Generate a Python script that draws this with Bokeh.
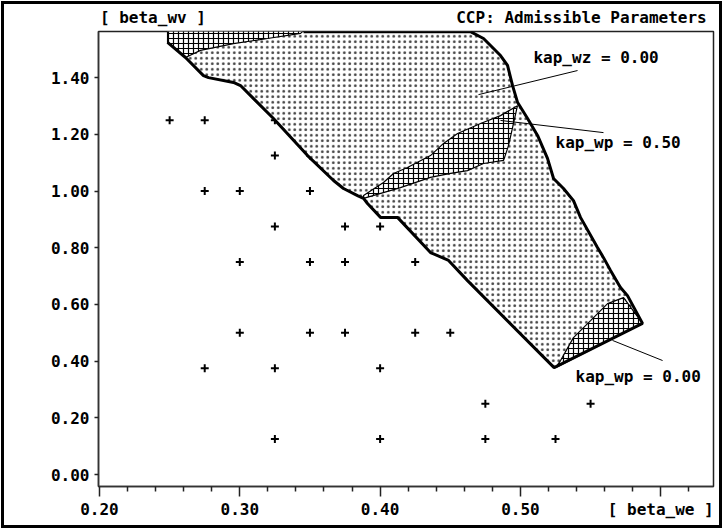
from bokeh.plotting import figure
from bokeh.models import Range1d, FixedTicker, Label, LinearAxis
from bokeh.embed import file_html
from bokeh.resources import INLINE

# grid of tested parameter points
pts_we = [0.25, 0.275, 0.325, 0.325, 0.35, 0.275, 0.30, 0.35, 0.325, 0.375, 0.40,
          0.30, 0.35, 0.375, 0.425, 0.30, 0.35, 0.375, 0.425, 0.45,
          0.275, 0.325, 0.40, 0.475, 0.55, 0.325, 0.40, 0.475, 0.525]
pts_wv = [1.25, 1.25, 1.25, 1.125, 1.125, 1.0, 1.0, 1.0, 0.875, 0.875, 0.875,
          0.75, 0.75, 0.75, 0.75, 0.5, 0.5, 0.5, 0.5, 0.5,
          0.375, 0.375, 0.375, 0.25, 0.25, 0.125, 0.125, 0.125, 0.125]

# admissible region (outer boundary)
outer_we = [0.2485, 0.3454, 0.4644, 0.4737, 0.4858, 0.4908, 0.4944, 0.4980, 0.5051,
            0.5122, 0.5193, 0.5236, 0.5307, 0.5378, 0.5428, 0.5549, 0.5592, 0.5642,
            0.5713, 0.5763, 0.5870, 0.5240, 0.4623, 0.4488, 0.4359, 0.4124, 0.4003,
            0.3910, 0.3882, 0.3839, 0.3739, 0.3668, 0.3483, 0.3240, 0.3098, 0.3005,
            0.2955, 0.2777, 0.2741, 0.2613, 0.2485]
outer_wv = [1.562, 1.562, 1.562, 1.538, 1.478, 1.443, 1.372, 1.312, 1.256,
            1.196, 1.115, 1.044, 1.009, 0.966, 0.907, 0.801, 0.765, 0.720,
            0.660, 0.631, 0.533, 0.377, 0.684, 0.755, 0.783, 0.907, 0.907,
            0.956, 0.974, 0.984, 1.009, 1.037, 1.125, 1.256, 1.326, 1.372,
            1.383, 1.400, 1.407, 1.471, 1.524]

# kap_wz hatched region (top-left)
hz_we = [0.2485, 0.3454, 0.3433, 0.3198, 0.2955, 0.2720, 0.2613, 0.2485]
hz_wv = [1.565, 1.565, 1.556, 1.538, 1.520, 1.496, 1.471, 1.524]

# kap_wp = 0.50 hatched band
hm_we = [0.3882, 0.4024, 0.4096, 0.4195, 0.4359, 0.4452, 0.4552, 0.4716, 0.4858, 0.4979,
         0.4915, 0.4880, 0.4737, 0.4623, 0.4502, 0.4359, 0.4145, 0.3882]
hm_wv = [0.984, 1.030, 1.062, 1.083, 1.125, 1.168, 1.203, 1.238, 1.266, 1.301,
         1.160, 1.108, 1.097, 1.072, 1.062, 1.048, 1.012, 0.974]

# kap_wp = 0.00 hatched region (bottom-right)
hb_we = [0.5250, 0.5286, 0.5378, 0.5500, 0.5621, 0.5735, 0.5870]
hb_wv = [0.377, 0.402, 0.483, 0.543, 0.603, 0.624, 0.533]

# leader lines
lead_wz_we = [0.4701, 0.5407]
lead_wz_wv = [1.340, 1.425]
lead_wp5_we = [0.4858, 0.5592]
lead_wp5_wv = [1.249, 1.206]
lead_wp0_we = [0.5656, 0.6013]
lead_wp0_wv = [0.473, 0.402]

x_ticks = [0.2, 0.3, 0.4, 0.5, 0.6]
x_tick_labels = ["0.20", "0.30", "0.40", "0.50", "[ beta_we ]"]
x_minor = [0.22, 0.24, 0.26, 0.28, 0.32, 0.34, 0.36, 0.38, 0.42, 0.44, 0.46, 0.48,
           0.52, 0.54, 0.56, 0.58, 0.62]
y_ticks = [0.0, 0.2, 0.4, 0.6, 0.8, 1.0, 1.2, 1.4]
y_tick_labels = ["0.00", "0.20", "0.40", "0.60", "0.80", "1.00", "1.20", "1.40"]

# header texts (y-axis name at left, chart title at right)
head_pos = [0.2381, 0.5435]
head_text = ["[ beta_wv ]", "CCP: Admissible Parameters"]

FONT = "DejaVu Sans Mono"
FS = "16px"

p = figure(width=723, height=529, x_range=Range1d(0.1993, 0.6376),
           y_range=Range1d(-0.0423, 1.5627), output_backend="svg",
           toolbar_location=None, min_border_left=98, min_border_right=10,
           min_border_top=31, min_border_bottom=43)
p.styles = {"outline": "3px solid black", "outline-offset": "-4px",
            "background-color": "white"}
p.border_fill_alpha = 0
p.background_fill_color = "white"
p.grid.visible = False
p.outline_line_color = "#222222"
p.outline_line_width = 1.5

p.xaxis.ticker = FixedTicker(ticks=x_ticks, minor_ticks=x_minor)
p.xaxis.major_label_overrides = dict(zip(x_ticks, x_tick_labels))
p.yaxis.ticker = FixedTicker(ticks=y_ticks)
p.yaxis.major_label_overrides = dict(zip(y_ticks, y_tick_labels))
for ax in (p.xaxis[0], p.yaxis[0]):
    ax.axis_line_color = "#333333"
    ax.axis_line_width = 1.5
    ax.major_tick_line_color = "#222222"
    ax.minor_tick_line_color = "#222222"
    ax.major_tick_line_width = 1.5
    ax.minor_tick_line_width = 1.5
    ax.major_tick_in = 0
    ax.minor_tick_in = 0
    ax.major_label_text_font = FONT
    ax.major_label_text_font_style = "bold"
    ax.major_label_text_font_size = FS
    ax.major_label_text_color = "black"
p.xaxis.major_tick_out = 10
p.xaxis.minor_tick_out = 5
p.xaxis.major_label_standoff = 3
p.yaxis.major_tick_out = 4
p.yaxis.minor_tick_out = 0
p.yaxis.major_label_standoff = 5

top_ax = LinearAxis(ticker=FixedTicker(ticks=head_pos, minor_ticks=[]),
                    major_label_overrides=dict(zip(head_pos, head_text)),
                    axis_line_color=None, major_tick_line_color=None,
                    minor_tick_line_color=None, major_tick_out=0, major_tick_in=0,
                    major_label_standoff=5, major_label_text_font=FONT,
                    major_label_text_font_style="bold",
                    major_label_text_font_size=FS, major_label_text_color="black")
p.add_layout(top_ax, "above")

# markers (under the regions)
p.scatter(pts_we, pts_wv, marker="cross", size=8, line_width=2, color="black")

# dotted admissible region
p.patch(outer_we, outer_wv, fill_color="white", line_color=None,
        hatch_pattern="dot", hatch_scale=5.5, hatch_weight=1, hatch_color="black",
        hatch_alpha=0.75)

# cross-hatched regions
for xs, ys in ((hz_we, hz_wv), (hm_we, hm_wv), (hb_we, hb_wv)):
    p.patch(xs, ys, fill_color="white", line_color="black", line_width=1.2,
            hatch_pattern="cross", hatch_scale=5, hatch_weight=1.2, hatch_color="black")

# thick boundary
p.line(outer_we[1:], outer_wv[1:], line_color="black", line_width=3)

# leader lines
for xs, ys in ((lead_wz_we, lead_wz_wv), (lead_wp5_we, lead_wp5_wv), (lead_wp0_we, lead_wp0_wv)):
    p.line(xs, ys, line_color="black", line_width=1)

def lab(x, y, t, align="left"):
    p.add_layout(Label(x=x, y=y, text=t, text_font=FONT, text_font_style="bold",
                       text_font_size=FS, text_align=align,
                       text_baseline="middle", text_color="black"))

lab(0.5093, 1.471, "kap_wz = 0.00")
lab(0.5250, 1.171, "kap_wp = 0.50")
lab(0.5393, 0.3457, "kap_wp = 0.00")

open("out.html", "w").write(file_html(p, INLINE))
